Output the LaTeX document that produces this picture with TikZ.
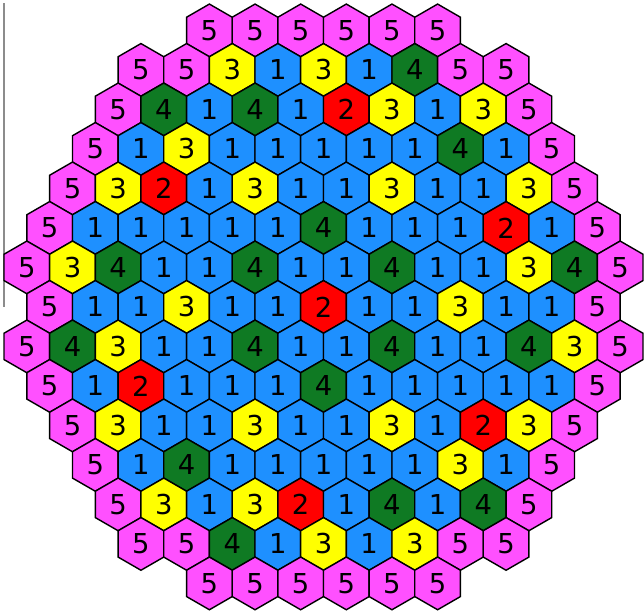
\documentclass[tikz,border=0pt]{standalone}
\usepackage{fontspec}
\setsansfont{DejaVu Sans}
\usetikzlibrary{shapes.geometric}
\definecolor{fa1}{HTML}{1E90FF}
\definecolor{fa2}{HTML}{FF0000}
\definecolor{fa3}{HTML}{FFFF00}
\definecolor{fa4}{HTML}{0F7A23}
\definecolor{fa5}{HTML}{FF50FF}
\tikzset{
  fa/.style = {regular polygon, regular polygon sides=6, shape border rotate=30,
    draw=black, line width=1pt, inner sep=0pt, outer sep=0pt,
    minimum size=1.317cm, text=black,
    font=\sffamily\fontsize{19.5}{22}\selectfont},
  edge/.style = {draw=black!45, line width=0.8pt}
}

\begin{document}
\begin{tikzpicture}[x=0.025cm, y=-0.025cm]
  \useasboundingbox (0,0) rectangle (644,612);
  \draw [edge] (4,3) -- (4,307);
  % row / first half-step / assembly types
  \foreach \r/\s/\vals in {
      1/8/{5,5,5,5,5,5},
      2/5/{5,5,3,1,3,1,4,5,5},
      3/4/{5,4,1,4,1,2,3,1,3,5},
      4/3/{5,1,3,1,1,1,1,1,4,1,5},
      5/2/{5,3,2,1,3,1,1,3,1,1,3,5},
      6/1/{5,1,1,1,1,1,4,1,1,1,2,1,5},
      7/0/{5,3,4,1,1,4,1,1,4,1,1,3,4,5},
      8/1/{5,1,1,3,1,1,2,1,1,3,1,1,5},
      9/0/{5,4,3,1,1,4,1,1,4,1,1,4,3,5},
      10/1/{5,1,2,1,1,1,4,1,1,1,1,1,5},
      11/2/{5,3,1,1,3,1,1,3,1,2,3,5},
      12/3/{5,1,4,1,1,1,1,1,3,1,5},
      13/4/{5,3,1,3,2,1,4,1,4,5},
      14/5/{5,5,4,1,3,1,3,5,5},
      15/8/{5,5,5,5,5,5}} {
    \foreach \v [count=\c from 0] in \vals
      \node [fa, fill=fa\v] (h-\r-\c) at ({323.5+(\s+2*\c-13)*22.82}, {30.4+(\r-1)*39.5}) {\v};
  }
\end{tikzpicture}
\end{document}
